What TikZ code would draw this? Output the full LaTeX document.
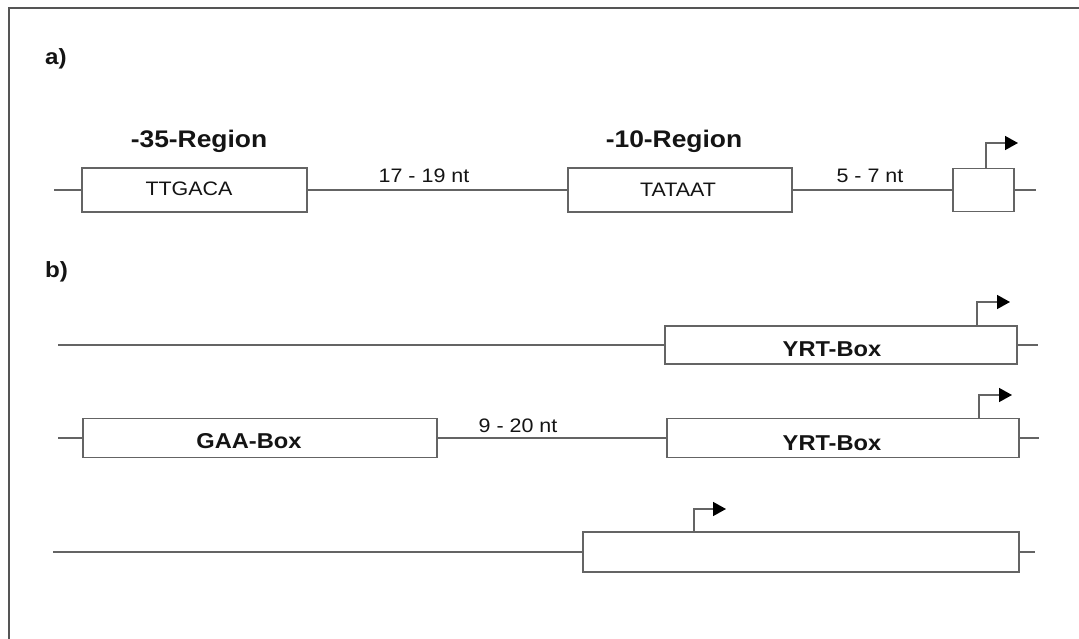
\documentclass[tikz,border=0pt]{standalone}
\usepackage{fontspec}
\setmainfont{Liberation Sans}[FakeStretch=1.1]
\usetikzlibrary{arrows.meta}
\definecolor{linegray}{RGB}{100,100,100}
\definecolor{framegray}{RGB}{85,85,85}
\definecolor{txt}{RGB}{20,20,20}
\tikzset{
  seg/.style={draw=linegray, line width=1.5pt},
  gbox/.style={draw=linegray, line width=1.6pt, rectangle, inner sep=0pt, fill=white},
  prom/.style={draw=linegray, line width=1.6pt, -{Triangle[length=13pt,width=14pt,color=black]}},
  lbl/.style={anchor=base, inner sep=0pt, text=txt, font=\fontsize{19.5}{19.5}\selectfont},
  blbl/.style={anchor=base, inner sep=0pt, text=txt, font=\fontsize{21.5}{21.5}\selectfont\bfseries},
  rlbl/.style={anchor=base, inner sep=0pt, text=txt, font=\fontsize{24}{24}\selectfont\bfseries},
  plbl/.style={anchor=base west, inner sep=0pt, text=txt, font=\fontsize{22}{22}\selectfont\bfseries}
}
\begin{document}
\begin{tikzpicture}[x=1pt, y=-1pt]
\useasboundingbox (0,0) rectangle (1079,639);
\fill[white] (0,0) rectangle (1079,639);
% frame
\draw[draw=framegray, line width=2pt] (9,639) -- (9,8) -- (1079,8);

% panel labels
\node[plbl] (la) at (45,65) {a)};
\node[plbl] (lb) at (45,277) {b)};

% ---- row a ----
\node[gbox, minimum width=225pt, minimum height=44pt] (a1) at (194.5,190) {};
\node[gbox, minimum width=224pt, minimum height=44pt] (a2) at (680,190) {};
\node[gbox, minimum width=61pt, minimum height=43pt] (a3) at (983.5,190) {};
\coordinate (a0) at (54,190);
\coordinate (a4) at (1036,190);
\coordinate (a3tip) at (1018,143);
\draw[seg] (a0) -- (a1.west);
\draw[seg] (a1.east) -- (a2.west);
\draw[seg] (a2.east) -- (a3.west);
\draw[seg] (a3.east) -- (a4);
\draw[prom] ([xshift=2.5pt]a3.north) |- (a3tip);
\node[rlbl] (r35) at (199,148) {-35-Region};
\node[rlbl] (r10) at (674,148) {-10-Region};
\node[lbl] (t1) at (189,196) {TTGACA};
\node[lbl] (t2) at (678,197) {TATAAT};
\node[lbl] (d1) at (424,183) {17 - 19 nt};
\node[lbl] (d2) at (870,183) {5 - 7 nt};

% ---- row b1 ----
\node[gbox, minimum width=352pt, minimum height=38pt] (b1) at (841,345) {};
\coordinate (b10) at (58,345);
\coordinate (b12) at (1038,345);
\coordinate (b1tip) at (1010,302);
\draw[seg] (b10) -- (b1.west);
\draw[seg] (b1.east) -- (b12);
\draw[prom] ([xshift=136pt]b1.north) |- (b1tip);
\node[blbl] (y1) at (832,356) {YRT-Box};

% ---- row b2 ----
\node[gbox, minimum width=354pt, minimum height=39pt] (g2) at (260,438) {};
\node[gbox, minimum width=352pt, minimum height=39pt] (y2box) at (843,438) {};
\coordinate (b20) at (58,438);
\coordinate (b23) at (1039,438);
\coordinate (b2tip) at (1012,395);
\draw[seg] (b20) -- (g2.west);
\draw[seg] (g2.east) -- (y2box.west);
\draw[seg] (y2box.east) -- (b23);
\draw[prom] ([xshift=136pt]y2box.north) |- (b2tip);
\node[blbl] (gl) at (249,448) {GAA-Box};
\node[blbl] (y2) at (832,450) {YRT-Box};
\node[lbl] (d3) at (518,432) {9 - 20 nt};

% ---- row b3 ----
\node[gbox, minimum width=436pt, minimum height=40pt] (b3) at (801,552) {};
\coordinate (b30) at (53,552);
\coordinate (b32) at (1035,552);
\coordinate (b3tip) at (726,509);
\draw[seg] (b30) -- (b3.west);
\draw[seg] (b3.east) -- (b32);
\draw[prom] ([xshift=-107pt]b3.north) |- (b3tip);
\end{tikzpicture}
\end{document}
